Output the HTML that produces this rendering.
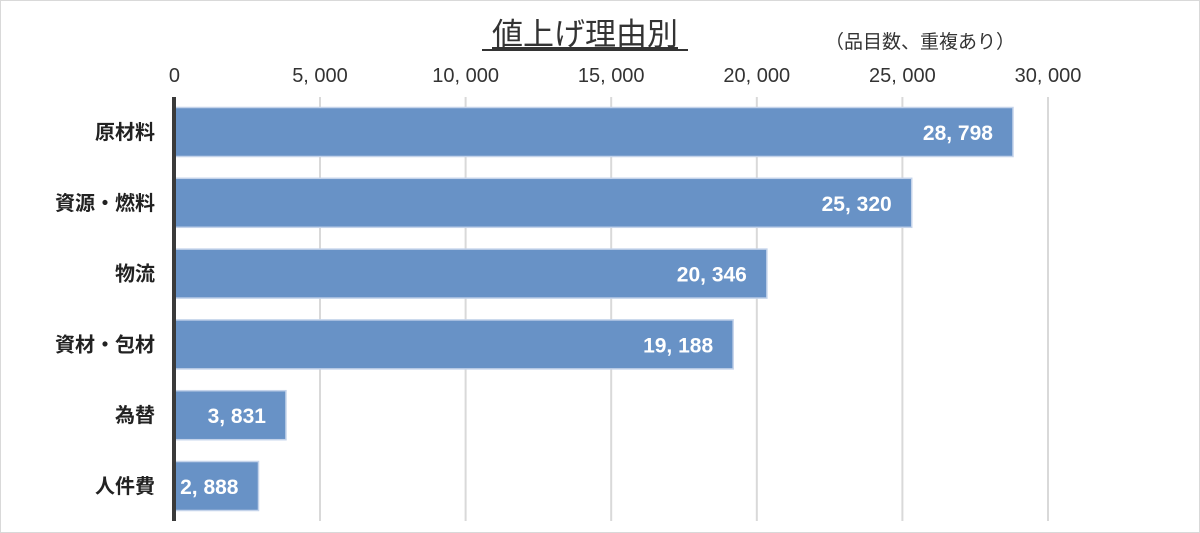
<!DOCTYPE html>
<html><head><meta charset="utf-8"><style>
html,body{margin:0;padding:0;background:#fff}
svg{display:block;font-family:"Liberation Sans","Noto Sans CJK JP",sans-serif}
</style></head><body>
<svg id="chart" width="1200" height="533" viewBox="0 0 1200 533">
<rect x="0.5" y="0.5" width="1199" height="532" fill="#fff" stroke="#d9d9d9"/>
<text x="585" y="45" text-anchor="middle" font-size="31" fill="#333" text-decoration="underline">値上げ理由別</text>
<line x1="482" y1="50" x2="688" y2="50" stroke="#333" stroke-width="2"/>
<text x="920" y="48" text-anchor="middle" font-size="19" fill="#333">（品目数、重複あり）</text>
<g id="grid"></g><g id="bars"></g><g id="labels"></g>
<line x1="174" y1="97" x2="174" y2="521" stroke="#3a3a3a" stroke-width="4"/>
</svg>
<script>
const categories = ["原材料","資源・燃料","物流","資材・包材","為替","人件費"];
const values = [28798,25320,20346,19188,3831,2888];
const ticks = [0,5000,10000,15000,20000,25000,30000];
const tickLabels = ["0","5, 000","10, 000","15, 000","20, 000","25, 000","30, 000"];
const valueLabels = ["28, 798","25, 320","20, 346","19, 188","3, 831","2, 888"];
const NS="http://www.w3.org/2000/svg";
const x0=174.4, pxPer=145.6/5000;
const xs=v=>x0+v*pxPer;
const ys=i=>132+i*70.8;
function mk(tag,attrs,parent){const e=document.createElementNS(NS,tag);for(const k in attrs)e.setAttribute(k,attrs[k]);document.querySelector(parent).appendChild(e);return e;}
ticks.forEach((t,i)=>{
  if(t>0){const g=mk("line",{x1:xs(t),x2:xs(t),y1:97,y2:521,stroke:"#d9d9d9","stroke-width":2},"#grid");
  
  }
  const tx=mk("text",{x:xs(t),y:82,"text-anchor":"middle","font-size":20,fill:"#333"},"#grid");
  tx.textContent=tickLabels[i];
  
  
});
categories.forEach((c,i)=>{
  const y=ys(i);
  const r=mk("rect",{x:x0,y:y-24.5,width:xs(values[i])-x0,height:49,fill:"#6892c6",stroke:"#c4d3ea","stroke-width":1.5},"#bars");
  
  
  const l=mk("text",{x:155,y:y+7,"text-anchor":"end","font-size":20,fill:"#222","font-weight":"bold"},"#labels");
  l.textContent=c;
  
  
  const v=mk("text",{x:xs(values[i])-20,y:y+8,"text-anchor":"end","font-size":21,fill:"#fff","font-weight":"bold"},"#labels");
  v.textContent=valueLabels[i];
  
  
});
</script>
</body></html>
